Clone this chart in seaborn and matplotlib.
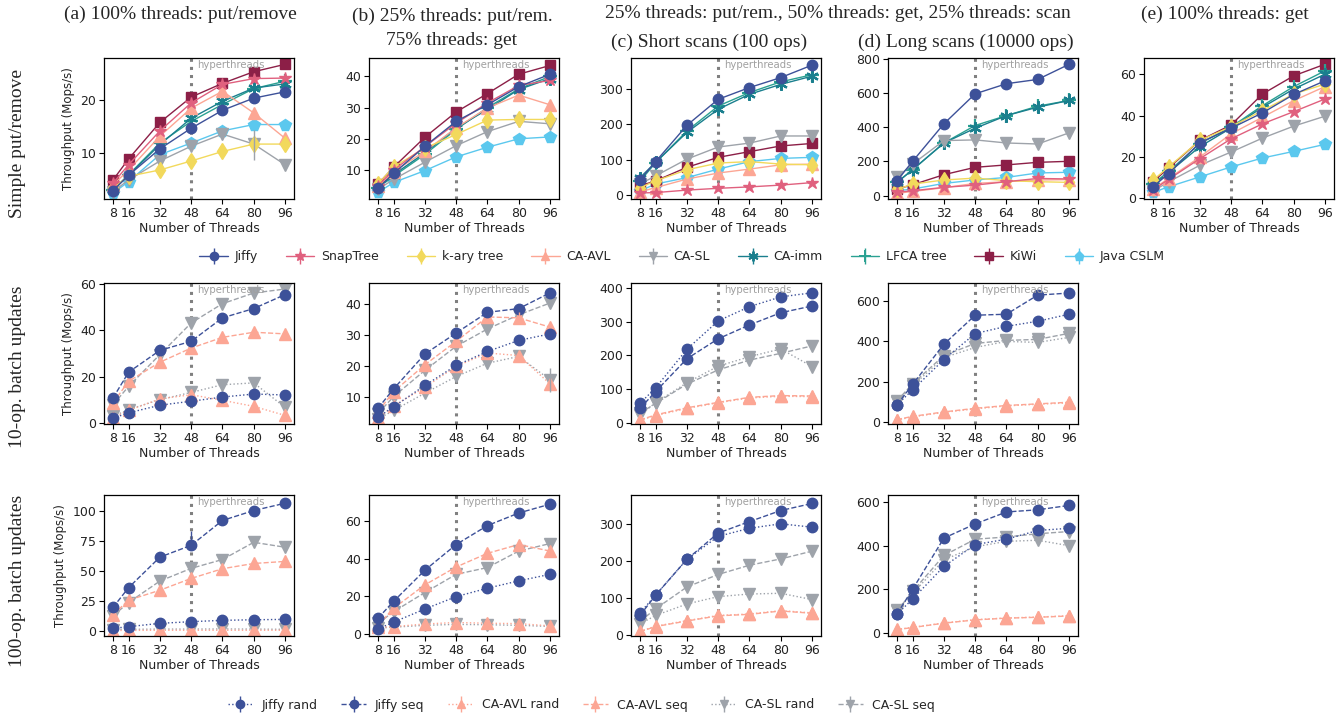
import matplotlib
matplotlib.use("Agg")
import matplotlib.pyplot as plt
import seaborn as sns
from matplotlib.lines import Line2D
from matplotlib.collections import LineCollection
from matplotlib.container import ErrorbarContainer
from matplotlib.legend_handler import HandlerErrorbar
import matplotlib.transforms as mtransforms

# ---------------- data ----------------
threads = [8, 16, 32, 48, 64, 80, 96]

structures = ["Jiffy", "SnapTree", "k-ary tree", "CA-AVL", "CA-SL",
              "CA-imm", "LFCA tree", "KiWi", "Java CSLM"]

# (a) 100% threads: put/remove
put_remove = {
    "Jiffy":      [2.9, 5.8, 10.8, 14.7, 18.1, 20.4, 21.6],
    "SnapTree":   [4.3, 7.8, 14.2, 19.5, 23.0, 24.1, 24.2],
    "k-ary tree": [3.4, 5.6, 6.8, 8.5, 10.3, 11.7, 11.7],
    "CA-AVL":     [4.0, 6.8, 13.2, 18.5, 21.7, 17.6, 12.8],
    "CA-SL":      [2.7, 4.9, 8.5, 11.3, 13.6, 11.7, 7.8],
    "CA-imm":     [3.0, 5.8, 11.6, 16.6, 19.8, 22.3, 23.1],
    "LFCA tree":  [3.0, 5.9, 11.9, 16.0, 19.2, 22.2, 23.6],
    "KiWi":       [4.9, 8.9, 15.8, 20.6, 23.2, 25.4, 26.8],
    "Java CSLM":  [2.4, 4.6, 9.7, 11.9, 14.2, 15.4, 15.4],
}
# (b) 25% put/rem, 75% get
mixed_get = {
    "Jiffy":      [4.2, 8.9, 17.6, 25.6, 30.9, 36.7, 40.7],
    "SnapTree":   [5.0, 10.0, 17.5, 25.0, 31.5, 37.1, 38.7],
    "k-ary tree": [5.5, 11.0, 17.0, 21.4, 26.0, 26.2, 26.2],
    "CA-AVL":     [4.8, 9.5, 16.0, 23.5, 29.9, 34.0, 30.9],
    "CA-SL":      [3.8, 7.0, 12.5, 17.8, 22.3, 25.6, 24.8],
    "CA-imm":     [4.5, 8.5, 15.5, 23.5, 29.4, 35.8, 39.3],
    "LFCA tree":  [4.3, 8.0, 15.0, 23.0, 30.0, 36.0, 40.0],
    "KiWi":       [5.5, 10.9, 20.5, 28.6, 34.5, 40.7, 43.5],
    "Java CSLM":  [2.8, 6.0, 9.8, 14.2, 17.3, 20.0, 20.6],
}
# (c) short scans
short_scans = {
    "Jiffy":      [44, 95, 197, 270, 303, 331, 366],
    "SnapTree":   [7, 8, 15, 20, 24, 29, 36],
    "k-ary tree": [22, 41, 72, 91, 95, 88, 86],
    "CA-AVL":     [10, 22, 46, 63, 74, 86, 88],
    "CA-SL":      [32, 55, 102, 136, 147, 167, 167],
    "CA-imm":     [50, 93, 177, 242, 284, 312, 335],
    "LFCA tree":  [40, 92, 181, 251, 289, 319, 339],
    "KiWi":       [27, 41, 79, 107, 123, 139, 146],
    "Java CSLM":  [13, 32, 50, 74, 95, 104, 107],
}
# (d) long scans
long_scans = {
    "Jiffy":      [88, 201, 420, 595, 654, 679, 767],
    "SnapTree":   [20, 29, 49, 62, 82, 101, 98],
    "k-ary tree": [37, 68, 92, 103, 88, 82, 78],
    "CA-AVL":     [14, 25, 47, 72, 82, 92, 94],
    "CA-SL":      [107, 185, 322, 326, 308, 302, 367],
    "CA-imm":     [78, 152, 308, 394, 468, 517, 556],
    "LFCA tree":  [78, 152, 308, 410, 468, 523, 556],
    "KiWi":       [39, 64, 123, 166, 180, 195, 201],
    "Java CSLM":  [29, 39, 72, 92, 107, 133, 137],
}
# (e) 100% threads: get
get_only = {
    "Jiffy":      [5.6, 12.0, 26.9, 33.9, 41.3, 50.2, 56.8],
    "SnapTree":   [4.0, 9.2, 19.2, 28.8, 36.0, 41.9, 48.0],
    "k-ary tree": [8.8, 15.2, 28.0, 34.7, 42.4, 50.4, 55.2],
    "CA-AVL":     [4.5, 9.6, 20.0, 31.2, 39.2, 47.2, 54.0],
    "CA-SL":      [3.5, 8.0, 16.0, 22.4, 29.1, 34.9, 39.7],
    "CA-imm":     [6.5, 12.5, 25.0, 34.0, 44.0, 52.8, 60.0],
    "LFCA tree":  [7.0, 13.0, 26.5, 34.5, 44.8, 54.0, 61.6],
    "KiWi":       [8.0, 14.7, 28.0, 35.5, 50.4, 59.2, 64.8],
    "Java CSLM":  [2.9, 5.6, 10.4, 15.2, 19.5, 22.7, 26.1],
}

batch_series = ["Jiffy rand", "Jiffy seq", "CA-AVL rand", "CA-AVL seq",
                "CA-SL rand", "CA-SL seq"]

# 10-op batch updates
b10_put_remove = {
    "Jiffy rand":  [2.2, 4.5, 7.8, 9.5, 11.3, 12.6, 12.2],
    "Jiffy seq":   [10.9, 22.0, 31.4, 35.3, 45.4, 49.4, 55.4],
    "CA-AVL rand": [2.3, 5.6, 10.5, 12.3, 9.9, 7.3, 3.4],
    "CA-AVL seq":  [8.8, 18.1, 26.3, 32.4, 37.0, 39.2, 38.5],
    "CA-SL rand":  [3.0, 5.9, 10.2, 13.3, 16.6, 17.4, 6.9],
    "CA-SL seq":   [8.0, 15.9, 29.6, 43.2, 51.5, 56.1, 57.8],
}
b10_mixed_get = {
    "Jiffy rand":  [3.3, 6.7, 13.6, 20.1, 24.6, 28.2, 30.3],
    "Jiffy seq":   [6.2, 12.5, 23.8, 30.6, 37.3, 38.5, 43.6],
    "CA-AVL rand": [3.0, 7.0, 13.0, 19.8, 24.1, 23.3, 14.1],
    "CA-AVL seq":  [5.1, 11.6, 20.3, 27.9, 35.8, 35.5, 32.5],
    "CA-SL rand":  [2.7, 5.5, 11.1, 16.5, 20.8, 23.0, 15.4],
    "CA-SL seq":   [4.5, 10.0, 18.5, 26.3, 31.9, 36.5, 40.3],
}
b10_short_scans = {
    "Jiffy rand":  [58, 104, 218, 302, 344, 373, 385],
    "Jiffy seq":   [43, 93, 190, 249, 290, 326, 346],
    "CA-AVL rand": [8, 22, 43, 60, 74, 79, 78],
    "CA-AVL seq":  [9, 24, 45, 61, 76, 81, 80],
    "CA-SL rand":  [24, 60, 119, 168, 196, 219, 167],
    "CA-SL seq":   [29, 58, 115, 157, 186, 206, 228],
}
b10_long_scans = {
    "Jiffy rand":  [85, 160, 310, 439, 475, 500, 535],
    "Jiffy seq":   [85, 187, 386, 530, 535, 630, 640],
    "CA-AVL rand": [10, 25, 48, 65, 80, 88, 95],
    "CA-AVL seq":  [12, 28, 50, 68, 82, 90, 98],
    "CA-SL rand":  [100, 180, 320, 370, 400, 395, 420],
    "CA-SL seq":   [105, 190, 330, 390, 405, 410, 440],
}
# 100-op batch updates
b100_put_remove = {
    "Jiffy rand":  [2.2, 3.6, 6.4, 7.8, 8.9, 9.4, 9.7],
    "Jiffy seq":   [19.7, 36.3, 61.8, 71.7, 92.5, 100.8, 106.9],
    "CA-AVL rand": [0.4, 0.5, 0.6, 0.6, 0.6, 0.6, 0.6],
    "CA-AVL seq":  [13.6, 25.8, 34.1, 44.0, 52.1, 56.5, 58.2],
    "CA-SL rand":  [1.2, 1.4, 1.6, 1.6, 1.7, 1.6, 1.4],
    "CA-SL seq":   [12.7, 23.8, 41.8, 52.4, 59.8, 74.2, 70.1],
}
b100_mixed_get = {
    "Jiffy rand":  [2.6, 6.2, 13.2, 19.8, 24.3, 28.2, 31.7],
    "Jiffy seq":   [8.3, 17.3, 33.9, 47.6, 57.7, 64.4, 69.1],
    "CA-AVL rand": [3.5, 3.8, 5.2, 6.0, 5.6, 5.4, 4.2],
    "CA-AVL seq":  [4.5, 13.6, 26.1, 35.6, 42.9, 47.6, 44.1],
    "CA-SL rand":  [3.0, 3.5, 4.5, 5.0, 4.8, 4.5, 3.9],
    "CA-SL seq":   [5.5, 11.8, 22.0, 31.7, 35.3, 44.1, 48.1],
}
b100_short_scans = {
    "Jiffy rand":  [59, 107, 204, 266, 288, 300, 291],
    "Jiffy seq":   [52, 107, 204, 275, 306, 336, 355],
    "CA-AVL rand": [9, 23, 38, 52, 56, 65, 59],
    "CA-AVL seq":  [8, 22, 37, 51, 55, 64, 58],
    "CA-SL rand":  [29, 52, 83, 103, 110, 112, 95],
    "CA-SL seq":   [36, 70, 129, 163, 188, 205, 226],
}
b100_long_scans = {
    "Jiffy rand":  [85, 155, 305, 405, 430, 470, 480],
    "Jiffy seq":   [86, 200, 435, 500, 555, 565, 585],
    "CA-AVL rand": [15, 25, 45, 60, 68, 72, 78],
    "CA-AVL seq":  [14, 24, 44, 59, 67, 71, 77],
    "CA-SL rand":  [105, 180, 335, 395, 420, 425, 400],
    "CA-SL seq":   [100, 190, 355, 430, 440, 455, 465],
}

# visible error bars: (row, col, series, threads, lower, upper)
error_bars = [
    (0, 0, "CA-SL", 80, 3.0, 2.6),
    (1, 1, "CA-SL rand", 96, 3.9, 3.9),
    (1, 1, "CA-AVL seq", 80, 2.0, 2.0),
    (1, 3, "Jiffy rand", 80, 25, 25),
    (2, 0, "Jiffy seq", 48, 0, 12),
]

titles_top = ["(a) 100% threads: put/remove",
              "(b) 25% threads: put/rem.\n75% threads: get",
              "(c) Short scans (100 ops)",
              "(d) Long scans (10000 ops)",
              "(e) 100% threads: get"]
scan_header = "25% threads: put/rem., 50% threads: get, 25% threads: scan"
row_labels = ["Simple put/remove", "10-op. batch updates", "100-op. batch updates"]

# ---------------- style ----------------
colors = {
    "Jiffy": "#3d5199", "SnapTree": "#e0607e", "k-ary tree": "#f2d95c",
    "CA-AVL": "#fca694", "CA-SL": "#9ea3aa", "CA-imm": "#1a7f8e",
    "LFCA tree": "#2aa192", "KiWi": "#8c1f47", "Java CSLM": "#5bc8ee",
}
markers = {
    "Jiffy": "o", "SnapTree": "*", "k-ary tree": "d", "CA-AVL": "^",
    "CA-SL": "v", "CA-imm": (6, 2, 0), "LFCA tree": "+", "KiWi": "s",
    "Java CSLM": "p",
}
msizes = {"Jiffy": 7.5, "SnapTree": 9, "k-ary tree": 8, "CA-AVL": 8,
          "CA-SL": 8, "CA-imm": 9, "LFCA tree": 10, "KiWi": 7, "Java CSLM": 8.5}

sns.set_style("ticks")
plt.rcParams["font.family"] = ["DejaVu Sans"]
plt.rcParams["axes.edgecolor"] = "black"
plt.rcParams["axes.linewidth"] = 0.9

W, H = 1341, 719
fig = plt.figure(figsize=(W / 100, H / 100), dpi=100)

col_left = [104, 369, 631, 888, 1144]
col_w = 190
row_top = [58, 283, 495]
row_h = 141

row1 = [put_remove, mixed_get, short_scans, long_scans, get_only]
row2 = [b10_put_remove, b10_mixed_get, b10_short_scans, b10_long_scans]
row3 = [b100_put_remove, b100_mixed_get, b100_short_scans, b100_long_scans]

ylims = [
    [(1.3, 28.0), (0.7, 45.9), (-10, 386), (-19, 804), (-0.3, 67.8)],
    [(-0.3, 60.4), (1.1, 46.8), (-3, 414), (-10, 690)],
    [(-4.2, 113.8), (-1.2, 74), (-3.6, 378), (-15, 633)],
]
yticks = [
    [[10, 20], [10, 20, 30, 40], [0, 100, 200, 300], [0, 200, 400, 600, 800], [0, 20, 40, 60]],
    [[0, 20, 40, 60], [10, 20, 30, 40], [0, 100, 200, 300, 400], [0, 200, 400, 600]],
    [[0, 25, 50, 75, 100], [0, 20, 40, 60], [0, 100, 200, 300], [0, 200, 400, 600]],
]


def base_of(series):
    if series.endswith((" rand", " seq")):
        return series.rsplit(" ", 1)[0]
    return series


def style_of(series):
    if series.endswith(" rand"):
        return ":"
    if series.endswith(" seq"):
        return "--"
    return "-"


def make_axes(r, c):
    left = col_left[c] / W
    bottom = 1 - (row_top[r] + row_h) / H
    return fig.add_axes([left, bottom, col_w / W, row_h / H])


def draw_panel(ax, data, series_list, r, c):
    for s in reversed(series_list):
        b = base_of(s)
        col = colors[b]
        mew = 1.6 if b in ("LFCA tree", "CA-imm") else 1.0
        sns.lineplot(x=threads, y=data[s], ax=ax, color=col, marker=markers[b],
                     markersize=msizes[b], markeredgecolor=col,
                     markerfacecolor=col, markeredgewidth=mew,
                     linewidth=1.0, linestyle=style_of(s), legend=False,
                     errorbar=None)
    for (er, ec, es, et, lo, hi) in error_bars:
        if er == r and ec == c:
            i = threads.index(et)
            ax.errorbar([et], [data[es][i]], yerr=[[lo], [hi]], fmt="none",
                        ecolor=colors[base_of(es)], elinewidth=1.0)
    ax.axvline(48, color="#808080", linestyle=":", linewidth=2.2, zorder=0.5)
    trans = mtransforms.blended_transform_factory(ax.transData, ax.transAxes)
    ax.text(48 + 3.0, 0.95, "hyperthreads", transform=trans, fontsize=7.3,
            color="#a0a0a0", va="center", ha="left")
    ax.set_xlim(3.4, 100.6)
    ax.set_xticks(threads)
    ax.set_xticklabels([str(t) for t in threads])
    ax.set_ylim(*ylims[r][c])
    ax.set_yticks(yticks[r][c])
    ax.tick_params(labelsize=9, length=3.5, width=0.8, pad=2,
                   colors="black", labelcolor="#222222")
    ax.set_xlabel("Number of Threads", fontsize=9, labelpad=2, color="#222222")
    if c == 0:
        ax.set_ylabel("Throughput (Mops/s)", fontsize=8.5, labelpad=4,
                      color="#222222")
    else:
        ax.set_ylabel("")
    for sp in ax.spines.values():
        sp.set_visible(True)
        sp.set_color("black")
        sp.set_linewidth(0.9)


for c, d in enumerate(row1):
    draw_panel(make_axes(0, c), d, structures, 0, c)
for c, d in enumerate(row2):
    draw_panel(make_axes(1, c), d, batch_series, 1, c)
for c, d in enumerate(row3):
    draw_panel(make_axes(2, c), d, batch_series, 2, c)

# ---------------- titles / labels ----------------
serif = ["Liberation Serif", "DejaVu Serif"]
fig.text(180 / W, 1 - 14 / H, titles_top[0], family=serif, fontsize=14,
         ha="center", va="center")
fig.text(452 / W, 1 - 28 / H, titles_top[1], family=serif, fontsize=14,
         ha="center", va="center", linespacing=1.55)
fig.text(838 / W, 1 - 14 / H, scan_header, family=serif, fontsize=14,
         ha="center", va="center")
fig.text(709 / W, 1 - 42 / H, titles_top[2], family=serif, fontsize=14,
         ha="center", va="center")
fig.text(966 / W, 1 - 42 / H, titles_top[3], family=serif, fontsize=14,
         ha="center", va="center")
fig.text(1225 / W, 1 - 14 / H, titles_top[4], family=serif, fontsize=14,
         ha="center", va="center")

for y, lab in zip([144, 367, 581], row_labels):
    fig.text(18 / W, 1 - y / H, lab, family=serif, fontsize=14,
             rotation=90, ha="center", va="center")


# ---------------- legends ----------------
def proxy(base, ls, label):
    col = colors[base]
    mew = 1.4 if base in ("LFCA tree", "CA-imm") else 1.0
    ln = Line2D([], [], color=col, marker=markers[base], linestyle=ls,
                linewidth=1.0, markersize=msizes[base] * 0.8, mec=col,
                mfc=col, mew=mew)
    bar = LineCollection([], colors=[col], linewidths=1.0)
    return ErrorbarContainer((ln, (), (bar,)), has_xerr=False, has_yerr=True,
                             label=label)


hmap = {ErrorbarContainer: HandlerErrorbar(xerr_size=0.5, yerr_size=0.65)}

h1 = [proxy(s, "-", s) for s in structures]
fig.legend(handles=h1, loc="center", bbox_to_anchor=(682 / W, 1 - 257 / H),
           ncol=9, frameon=False, fontsize=9, handlelength=2.3,
           handletextpad=0.5, columnspacing=2.25, borderaxespad=0,
           handler_map=hmap)

h2 = [proxy(base_of(s), style_of(s), s) for s in batch_series]
fig.legend(handles=h2, loc="center", bbox_to_anchor=(581 / W, 1 - 705 / H),
           ncol=6, frameon=False, fontsize=9, handlelength=2.0,
           handletextpad=0.7, columnspacing=1.9, borderaxespad=0,
           handler_map=hmap)

fig.savefig("out.png", dpi=100)
